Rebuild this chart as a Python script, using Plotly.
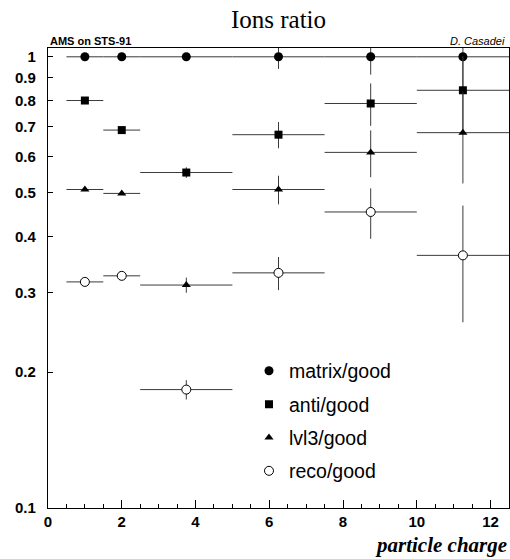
import plotly.graph_objects as go
import numpy as np

# bin centres and half-widths (particle charge)
charge = [1, 2, 3.75, 6.25, 8.75, 11.25]
charge_halfwidth = [0.5, 0.5, 1.25, 1.25, 1.25, 1.25]

matrix_good = [1.0, 1.0, 1.0, 1.0, 1.0, 1.0]
matrix_err = [0.003, 0.003, 0.012, 0.06, 0.087, 0.15]

anti_good = [0.80, 0.688, 0.554, 0.672, 0.788, 0.843]
anti_err = [0.005, 0.006, 0.015, 0.045, 0.085, 0.16]

lvl3_good = [0.508, 0.498, 0.312, 0.508, 0.614, 0.679]
lvl3_err = [0.004, 0.004, 0.012, 0.037, 0.073, 0.155]

reco_good = [0.317, 0.327, 0.183, 0.332, 0.453, 0.363]
reco_err = [0.003, 0.003, 0.009, 0.028, 0.058, 0.105]

ytick_vals = [0.1, 0.2, 0.3, 0.4, 0.5, 0.6, 0.7, 0.8, 0.9, 1]
ytick_text = ["0.1", "0.2", "0.3", "0.4", "0.5", "0.6", "0.7", "0.8", "0.9", "1"]

series = [
    ("matrix/good", matrix_good, matrix_err, dict(symbol="circle", size=9, color="black")),
    ("anti/good", anti_good, anti_err, dict(symbol="square", size=8, color="black")),
    ("lvl3/good", lvl3_good, lvl3_err, dict(symbol="triangle-up", size=8, color="black")),
    ("reco/good", reco_good, reco_err, dict(symbol="circle", size=9, color="white",
                                            line=dict(color="black", width=1))),
]

fig = go.Figure()
for i, (name, vals, errs, mk) in enumerate(series):
    fig.add_trace(go.Scatter(
        x=charge, y=vals, mode="markers", name=name, legendgroup=name,
        marker=mk,
        error_x=dict(type="data", array=charge_halfwidth, width=0, thickness=1, color="#3a3a3a"),
        error_y=dict(type="data", array=errs, width=0, thickness=1, color="#3a3a3a"),
    ))

tickfont = dict(family="Liberation Sans, Arial, sans-serif", size=15, color="black", weight="bold")

fig.update_layout(
    width=510, height=559,
    margin=dict(l=48, r=1, t=48, b=51),
    paper_bgcolor="white", plot_bgcolor="white",
    title=dict(text="Ions ratio", x=0.5, xref="paper", xanchor="center",
               y=1 - 19 / 559, yref="container", yanchor="middle",
               font=dict(family="Liberation Serif, Times New Roman, serif", size=25, color="black")),
    xaxis=dict(range=[0, 12.5], showgrid=False, zeroline=False,
               showline=True, linecolor="black", linewidth=1.2, mirror=True,
               ticks="inside", ticklen=8, tickcolor="black", tickwidth=1,
               tickvals=[0, 2, 4, 6, 8, 10, 12], tickfont=tickfont,
               minor=dict(dtick=0.5, ticks="inside", ticklen=4, tickcolor="black", showgrid=False)),
    yaxis=dict(type="log", range=[-1, 0.0195], showgrid=False, zeroline=False,
               showline=True, linecolor="black", linewidth=1.2, mirror=True,
               ticks="inside", ticklen=5, tickcolor="black", tickwidth=1,
               tickvals=ytick_vals, ticktext=ytick_text, tickfont=tickfont,
               ticklabelstandoff=8),
    showlegend=True,
    legend=dict(x=0.436, y=0.34, xanchor="left", yanchor="top",
                bgcolor="rgba(0,0,0,0)", borderwidth=0,
                traceorder="grouped", tracegroupgap=5, itemwidth=30,
                font=dict(family="Liberation Sans, Arial, sans-serif", size=19.5, color="black")),
    annotations=[
        dict(text="AMS on STS-91", xref="paper", yref="paper", x=0, y=1, xanchor="left",
             yanchor="bottom", showarrow=False, yshift=-1,
             font=dict(family="Liberation Sans, Arial, sans-serif", size=11, color="black", weight="bold")),
        dict(text="<i>D. Casadei</i>", xref="paper", yref="paper", x=0.996, y=1, xanchor="right",
             yanchor="bottom", showarrow=False, yshift=-1,
             font=dict(family="Liberation Sans, Arial, sans-serif", size=11, color="black")),
        dict(text="<b><i>particle charge</i></b>", xref="paper", yref="paper", x=1, y=0,
             xanchor="right", yanchor="middle", showarrow=False, yshift=-37,
             font=dict(family="Liberation Serif, Times New Roman, serif", size=21, color="black")),
    ],
)

fig.write_html("out.html")
